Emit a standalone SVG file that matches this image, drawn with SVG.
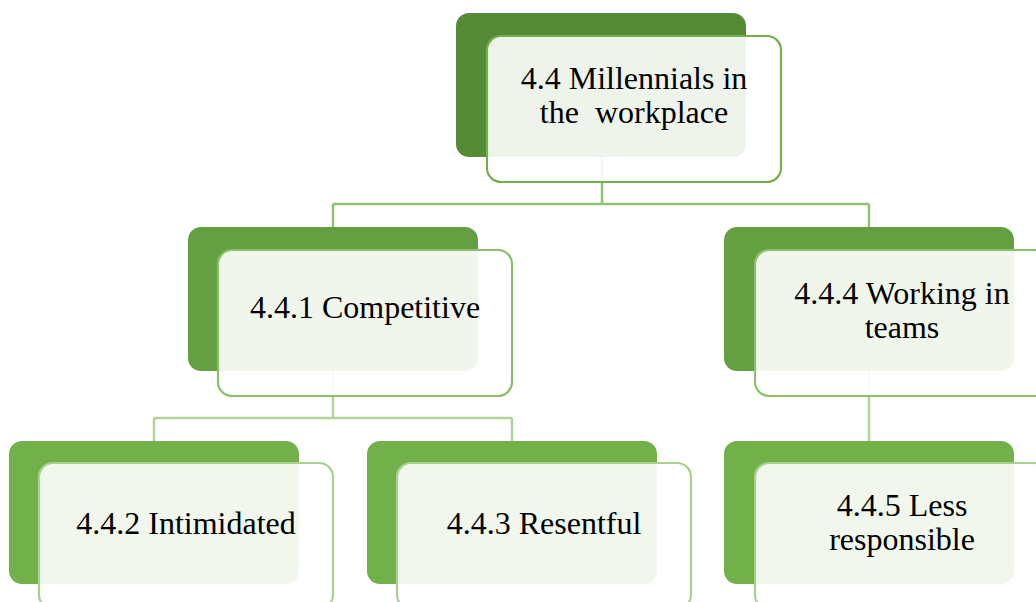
<svg xmlns="http://www.w3.org/2000/svg" width="1036" height="602" viewBox="0 0 1036 602">
  <style>
    .back { stroke: none; }
    .l1 { fill: #578A37; }
    .l2 { fill: #64A041; }
    .l3 { fill: #72B04A; }
    .front { fill: #ffffff; fill-opacity: 0.9; stroke-width: 2.2; }
    .f1 { stroke: #74AE4D; }
    .f2 { stroke: #8CBF6D; }
    .f3 { stroke: #A9D08F; }
    .conn { fill: none; stroke-width: 2.5; }
    .c1 { stroke: #93C074; }
    .c2 { stroke: #AFD39A; }
    .label { font-family: "Liberation Serif", "Times New Roman", serif; font-size: 32px; fill: #000000; text-anchor: middle; white-space: pre; }
  </style>
  <rect width="1036" height="602" fill="#ffffff"/>

  <!-- connectors -->
  <g id="connectors">
    <path class="conn c1" d="M602 157 V204 M333 204 H869 M333 204 V228 M869 204 V228"/>
    <path class="conn c2" d="M333 371 V418 M154 418 H512 M154 418 V441 M512 418 V441 M869 371 V441"/>
  </g>

  <!-- level 1 -->
  <g id="node-millennials">
    <rect class="back l1" x="456" y="13" width="290" height="144" rx="13"/>
    <rect class="front f1" x="487" y="36" width="294" height="146" rx="14"/>
    <text class="label" x="634" y="89">4.4 Millennials in</text>
    <text class="label" x="634" y="123">the  workplace</text>
  </g>

  <!-- level 2 -->
  <g id="node-competitive">
    <rect class="back l2" x="188" y="227" width="290" height="144" rx="13"/>
    <rect class="front f2" x="218" y="250" width="294" height="146" rx="14"/>
    <text class="label" x="365" y="318">4.4.1 Competitive</text>
  </g>
  <g id="node-teams">
    <rect class="back l2" x="724" y="227" width="290" height="144" rx="13"/>
    <rect class="front f2" x="755" y="250" width="294" height="146" rx="14"/>
    <text class="label" x="902" y="304">4.4.4 Working in</text>
    <text class="label" x="902" y="338">teams</text>
  </g>

  <!-- level 3 -->
  <g id="node-intimidated">
    <rect class="back l3" x="9" y="441" width="290" height="143" rx="13"/>
    <rect class="front f3" x="39" y="463" width="294" height="146" rx="14"/>
    <text class="label" x="186" y="534">4.4.2 Intimidated</text>
  </g>
  <g id="node-resentful">
    <rect class="back l3" x="367" y="441" width="290" height="143" rx="13"/>
    <rect class="front f3" x="397" y="463" width="294" height="146" rx="14"/>
    <text class="label" x="544" y="534">4.4.3 Resentful</text>
  </g>
  <g id="node-less-responsible">
    <rect class="back l3" x="724" y="441" width="290" height="143" rx="13"/>
    <rect class="front f3" x="755" y="463" width="294" height="146" rx="14"/>
    <text class="label" x="902" y="516">4.4.5 Less</text>
    <text class="label" x="902" y="550">responsible</text>
  </g>
</svg>
